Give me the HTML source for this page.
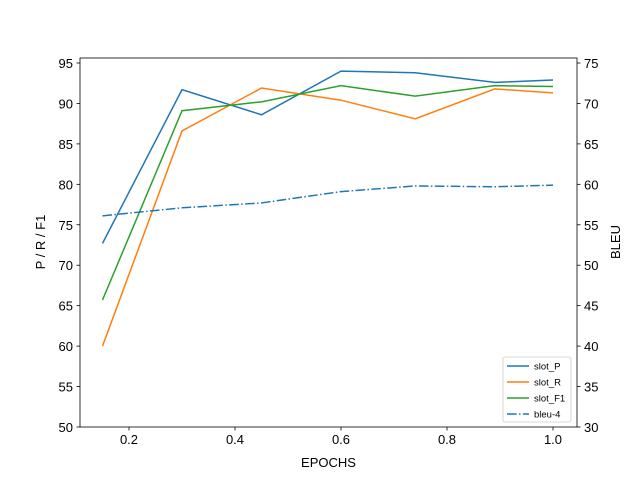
<!DOCTYPE html>
<html><head><meta charset="utf-8"><style>body{margin:0;background:#fff}svg{display:block;font-family:"Liberation Sans","DejaVu Sans",sans-serif}</style></head>
<body>
<svg id="chart" width="640" height="480" xmlns="http://www.w3.org/2000/svg"></svg>
<script>
const epochs = [0.15, 0.3, 0.45, 0.6, 0.74, 0.89, 1.0];
const slotP = [72.7, 91.7, 88.6, 94.0, 93.8, 92.6, 92.9];
const slotR = [60.0, 86.6, 91.9, 90.4, 88.1, 91.8, 91.3];
const slotF1 = [65.7, 89.1, 90.2, 92.2, 90.9, 92.2, 92.1];
const bleu4 = [56.1, 57.1, 57.7, 59.1, 59.8, 59.7, 59.9];
const xTicks = [0.2, 0.4, 0.6, 0.8, 1.0];
const xTickLabels = ["0.2", "0.4", "0.6", "0.8", "1.0"];
const yTicks = [50, 55, 60, 65, 70, 75, 80, 85, 90, 95];
const y2Ticks = [30, 35, 40, 45, 50, 55, 60, 65, 70, 75];

const svg = document.getElementById('chart');
const NS = 'http://www.w3.org/2000/svg';
const L = 80, R = 577, T = 58, B = 427;
const xs = v => 129 + (v - 0.2) * 530;
const ys = v => 427 - (v - 50) * 8.089;
const ys2 = v => 427 - (v - 30) * 8.089;
function mk(tag, attrs, parent) {
  const e = document.createElementNS(NS, tag);
  for (const k in attrs) e.setAttribute(k, attrs[k]);
  (parent || svg).appendChild(e);
  return e;
}
function txt(s, attrs) { const e = mk('text', attrs); e.textContent = s; return e; }

const colors = ['#1f77b4', '#ff7f0e', '#2ca02c', '#1f77b4'];
const series = [slotP, slotR, slotF1, bleu4];
const names = ['slot_P', 'slot_R', 'slot_F1', 'bleu-4'];
series.forEach((s, i) => {
  const sc = i === 3 ? ys2 : ys;
  const pts = s.map((v, j) => xs(epochs[j]) + ',' + sc(v)).join(' ');
  const pl = mk('polyline', {points: pts, fill: 'none', stroke: colors[i], 'stroke-width': 1.5});
  if (i === 3) pl.setAttribute('stroke-dasharray', '9.6,2.4,1.5,2.4');
  
  
});

const frame = mk('rect', {x: L, y: T, width: R - L, height: B - T, fill: 'none', stroke: '#000', 'stroke-width': 0.8});



xTicks.forEach((v, i) => {
  mk('line', {x1: xs(v), x2: xs(v), y1: B, y2: B + 3.5, stroke: '#000', 'stroke-width': 0.8});
  const t = txt(xTickLabels[i], {x: xs(v), y: B + 17, 'font-size': 13, 'text-anchor': 'middle'});
  
  
});
yTicks.forEach(v => {
  mk('line', {x1: L - 3.5, x2: L, y1: ys(v), y2: ys(v), stroke: '#000', 'stroke-width': 0.8});
  const t = txt(String(v), {x: L - 7, y: ys(v) + 5, 'font-size': 13, 'text-anchor': 'end'});
  
  
});
y2Ticks.forEach(v => {
  mk('line', {x1: R, x2: R + 3.5, y1: ys2(v), y2: ys2(v), stroke: '#000', 'stroke-width': 0.8});
  const t = txt(String(v), {x: R + 7, y: ys2(v) + 5, 'font-size': 13, 'text-anchor': 'start'});
  
  
});
const xt = txt('EPOCHS', {x: (L + R) / 2, y: 467, 'font-size': 13, 'text-anchor': 'middle'});


const yt = txt('P / R / F1', {x: 45, y: 242, 'font-size': 13, 'text-anchor': 'middle', transform: 'rotate(-90 45 242)'});


const y2t = txt('BLEU', {x: 620, y: 242, 'font-size': 13, 'text-anchor': 'middle', transform: 'rotate(-90 620 242)'});



const lg = mk('g', {});


mk('rect', {x: 503, y: 357, width: 68, height: 65, rx: 2, fill: '#fff', stroke: '#ccc', 'stroke-width': 0.8}, lg);
names.forEach((n, i) => {
  const y = 366 + i * 16;
  const ln = mk('line', {x1: 507, x2: 529, y1: y, y2: y, stroke: colors[i], 'stroke-width': 1.5}, lg);
  if (i === 3) ln.setAttribute('stroke-dasharray', '9.6,2.4,1.5,2.4');
  const t = mk('text', {x: 534, y: y + 3.5, 'font-size': 9.5}, lg);
  t.textContent = n;
  
  
});
</script>
</body></html>
